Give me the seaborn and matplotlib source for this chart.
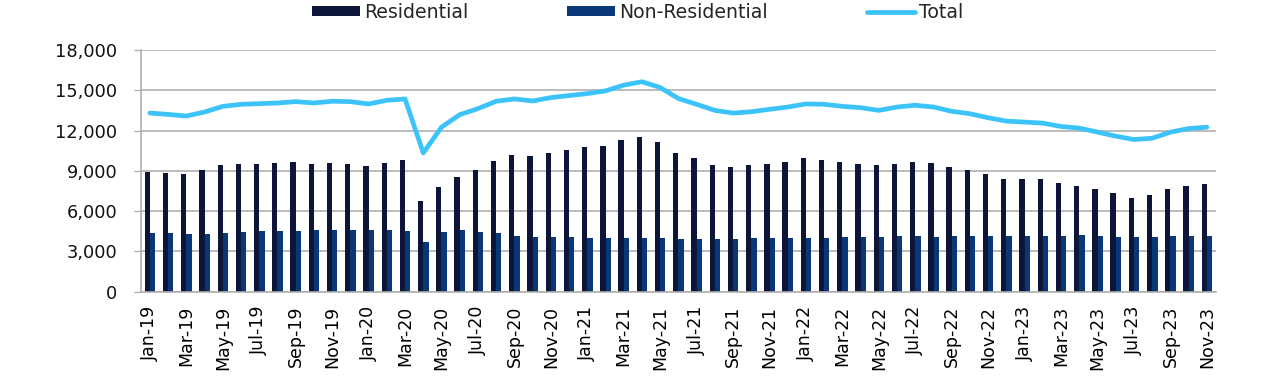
import matplotlib
matplotlib.use('Agg')
import matplotlib.pyplot as plt
import numpy as np
import pandas as pd
import seaborn as sns

months = [
    'Jan-19', 'Feb-19', 'Mar-19', 'Apr-19', 'May-19', 'Jun-19', 'Jul-19', 'Aug-19', 'Sep-19', 'Oct-19', 'Nov-19', 'Dec-19',
    'Jan-20', 'Feb-20', 'Mar-20', 'Apr-20', 'May-20', 'Jun-20', 'Jul-20', 'Aug-20', 'Sep-20', 'Oct-20', 'Nov-20', 'Dec-20',
    'Jan-21', 'Feb-21', 'Mar-21', 'Apr-21', 'May-21', 'Jun-21', 'Jul-21', 'Aug-21', 'Sep-21', 'Oct-21', 'Nov-21', 'Dec-21',
    'Jan-22', 'Feb-22', 'Mar-22', 'Apr-22', 'May-22', 'Jun-22', 'Jul-22', 'Aug-22', 'Sep-22', 'Oct-22', 'Nov-22', 'Dec-22',
    'Jan-23', 'Feb-23', 'Mar-23', 'Apr-23', 'May-23', 'Jun-23', 'Jul-23', 'Aug-23', 'Sep-23', 'Oct-23', 'Nov-23',
]

residential = [
    8950, 8850, 8800, 9030, 9470, 9520, 9520, 9570, 9640, 9520, 9570, 9520,
    9350, 9590, 9790, 6720, 7810, 8560, 9100, 9770, 10160, 10140, 10340, 10580,
    10760, 10880, 11330, 11550, 11150, 10360, 9920, 9470, 9270, 9400, 9540, 9690,
    9940, 9840, 9640, 9540, 9420, 9540, 9640, 9620, 9250, 9050, 8730, 8430,
    8430, 8380, 8090, 7890, 7670, 7340, 7000, 7170, 7640, 7910, 8040,
]

non_residential = [
    4380, 4380, 4300, 4300, 4380, 4450, 4500, 4500, 4550, 4600, 4600, 4620,
    4620, 4600, 4530, 3680, 4430, 4600, 4450, 4350, 4180, 4060, 4080, 4080,
    4030, 4030, 4030, 4030, 3980, 3930, 3960, 3930, 3960, 3980, 3980, 4010,
    4030, 4030, 4080, 4060, 4060, 4130, 4130, 4110, 4130, 4180, 4130, 4130,
    4130, 4130, 4130, 4230, 4130, 4080, 4110, 4110, 4130, 4130, 4130,
]

total = [
    13300, 13200, 13080, 13380, 13800, 13950, 14000, 14050, 14150, 14050, 14180, 14150,
    13980, 14250, 14350, 10330, 12250, 13180, 13630, 14180, 14350, 14200, 14450, 14600,
    14750, 14950, 15380, 15630, 15200, 14380, 13950, 13500, 13300, 13400, 13580, 13750,
    13980, 13950, 13800, 13700, 13500, 13750, 13880, 13750, 13430, 13250, 12950, 12700,
    12630, 12550, 12300, 12180, 11880, 11580, 11330, 11430, 11880, 12150, 12250,
]

series_names = ['Residential', 'Non-Residential']
bar_colors = ['#0D1538', '#0A3778']
line_color = '#3CC4FA'
grid_color = '#B0B0B0'


def build_frame():
    df = pd.DataFrame({
        'month': months,
        'Residential': residential,
        'Non-Residential': non_residential,
    })
    return df.melt(id_vars='month', value_vars=series_names,
                   var_name='series', value_name='value')


def plot_chart(file_name):
    sns.set_style('white')
    plt.rcParams['font.family'] = ['DejaVu Sans']

    fig, ax = plt.subplots(figsize=(12.8, 3.78), dpi=100)
    fig.subplots_adjust(left=0.110, right=0.950, bottom=0.228, top=0.868)

    sns.barplot(ax=ax, data=build_frame(), x='month', y='value',
                hue='series', hue_order=series_names, palette=bar_colors,
                order=months, width=0.58, saturation=1, linewidth=0,
                errorbar=None)

    sns.lineplot(ax=ax, x=np.arange(len(months)), y=total,
                 color=line_color, linewidth=3.4, label='Total')

    ax.set_xlim(-0.5, len(months) - 0.5)
    ax.set_ylim(0, 18000)
    ax.set_yticks(range(0, 18001, 3000))
    ax.set_yticklabels([f'{v:,}' for v in range(0, 18001, 3000)])

    label_pos = np.arange(0, len(months), 2)
    ax.set_xticks(label_pos)
    ax.set_xticklabels([months[i] for i in label_pos], rotation=90)
    ax.set_xticks(label_pos - 0.5, minor=True)
    ax.tick_params(axis='x', which='major', length=0, pad=10,
                   labelsize=12.5, labelcolor='black')
    ax.tick_params(axis='x', which='minor', length=5, width=1,
                   color=grid_color, direction='out')
    ax.tick_params(axis='y', length=5, width=1, color=grid_color,
                   pad=12, labelsize=12.8, labelcolor='#111111', left=True)

    ax.yaxis.grid(True, color=grid_color, linewidth=1.2)
    ax.set_axisbelow(True)
    sns.despine(ax=ax, top=True, right=True)
    for side in ['left', 'bottom']:
        ax.spines[side].set_color(grid_color)
        ax.spines[side].set_linewidth(1.2)

    ax.set_xlabel('')
    ax.set_ylabel('')

    handles, labels = ax.get_legend_handles_labels()
    ax.get_legend().remove()
    fig.legend(handles, labels, loc='center', bbox_to_anchor=(0.498, 0.968),
               ncol=3, frameon=False, fontsize=13.6, handlelength=2.55,
               handleheight=0.5, handletextpad=0.2, columnspacing=5.25)

    plt.savefig(file_name, dpi=100)
    plt.close()


plot_chart('out.png')
